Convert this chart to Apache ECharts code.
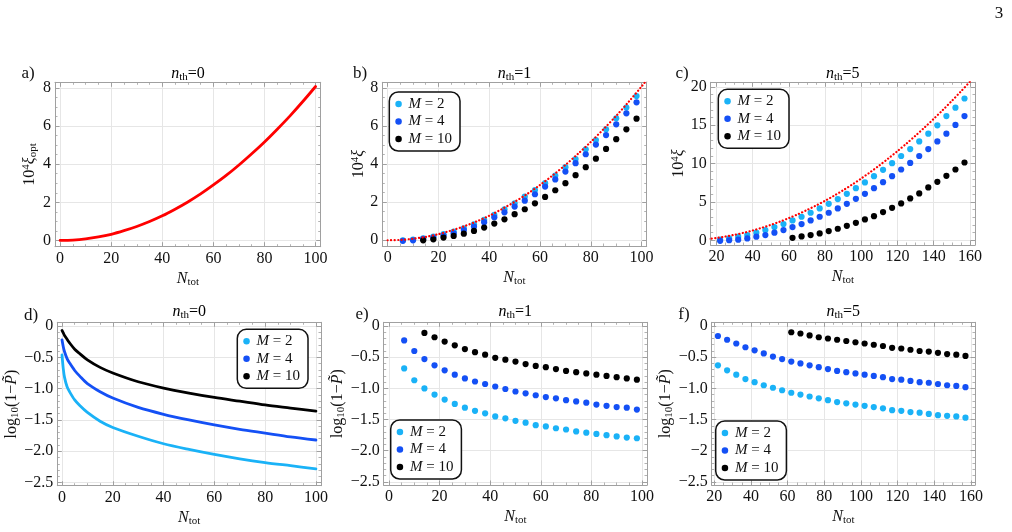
<!DOCTYPE html>
<html><head><meta charset="utf-8">
<script src="https://cdn.jsdelivr.net/npm/echarts@6/dist/echarts.min.js"></script>
<style>html,body{margin:0;padding:0;background:#fff}#c{width:1012px;height:532px}</style>
</head><body><div id="c"></div>
<script>
// ---------- data ----------
// optimal curve (n_th = 0), used in a) solid and b), c) dotted
const redX = [0,5,10,15,20,25,30,35,40,45,50,55,60,65,70,75,80,85,90,95,100,105,110,115,120,125,130,135,140,145,150,155,160];
const redY = [0,0.02,0.08,0.18,0.32,0.51,0.73,0.99,1.29,1.64,2.02,2.44,2.91,3.41,3.96,4.55,5.17,5.84,6.54,7.29,8.08,8.91,9.78,10.69,11.64,12.63,13.66,14.73,15.84,16.99,18.18,19.41,20.68];

// b) n_th = 1
const bX = [6,10,14,18,22,26,30,34,38,42,46,50,54,58,62,66,70,74,78,82,86,90,94,98];
const bM2 = [0.0,0.04,0.1,0.19,0.32,0.46,0.63,0.84,1.07,1.33,1.63,1.94,2.29,2.64,3.0,3.4,3.84,4.27,4.78,5.27,5.83,6.41,6.97,7.58];
const bM4 = [-0.03,0.0,0.07,0.14,0.25,0.37,0.54,0.72,0.95,1.21,1.47,1.77,2.08,2.42,2.82,3.2,3.61,4.05,4.52,5.03,5.53,6.09,6.67,7.25];
const bX10 = [14,18,22,26,30,34,38,42,46,50,54,58,62,66,70,74,78,82,86,90,94,98];
const bM10 = [0.0,0.05,0.14,0.23,0.35,0.49,0.67,0.88,1.1,1.37,1.63,1.94,2.28,2.63,3.0,3.42,3.84,4.29,4.8,5.31,5.83,6.39];

// c) n_th = 5
const cX = [22,27,32,37,42,47,52,57,62,67,72,77,82,87,92,97,102,107,112,117,122,127,132,137,142,147,152,157];
const cM2 = [0.09,0.26,0.48,0.69,1.0,1.34,1.74,2.13,2.6,3.08,3.6,4.16,4.77,5.38,6.07,6.81,7.55,8.37,9.2,10.06,11.0,11.9,12.9,13.9,15.0,16.2,17.3,18.49];
const cM4 = [-0.05,0.02,0.09,0.26,0.48,0.69,1.0,1.34,1.74,2.13,2.6,3.08,3.6,4.16,4.77,5.42,6.07,6.81,7.59,8.37,9.24,10.1,11.0,11.9,12.9,13.9,15.05,16.2];
const cX10 = [62,67,72,77,82,87,92,97,102,107,112,117,122,127,132,137,142,147,152,157];
const cM10 = [0.34,0.52,0.69,0.91,1.22,1.52,1.9,2.29,2.73,3.16,3.69,4.25,4.82,5.47,6.12,6.9,7.63,8.41,9.24,10.15];

// d) n_th = 0 curves
const dX = [0,0.5,1,2,3,5,7,10,15,20,30,40,50,60,70,80,90,100];
const dM2 = [-0.46,-0.68,-0.82,-0.97,-1.05,-1.18,-1.27,-1.38,-1.52,-1.62,-1.76,-1.88,-1.97,-2.05,-2.12,-2.18,-2.23,-2.28];
const dM4 = [-0.22,-0.33,-0.41,-0.52,-0.59,-0.71,-0.8,-0.92,-1.05,-1.15,-1.3,-1.41,-1.5,-1.58,-1.65,-1.71,-1.77,-1.82];
const dM10 = [-0.07,-0.11,-0.15,-0.21,-0.27,-0.37,-0.44,-0.54,-0.66,-0.75,-0.89,-0.99,-1.07,-1.14,-1.2,-1.26,-1.31,-1.36];

// e) n_th = 1
const eM2 = [-0.68,-0.87,-1.0,-1.1,-1.18,-1.25,-1.31,-1.36,-1.4,-1.45,-1.48,-1.52,-1.55,-1.59,-1.61,-1.64,-1.66,-1.69,-1.71,-1.73,-1.75,-1.77,-1.79,-1.8];
const eM4 = [-0.23,-0.4,-0.53,-0.63,-0.71,-0.78,-0.84,-0.89,-0.93,-0.97,-1.01,-1.05,-1.08,-1.11,-1.14,-1.16,-1.19,-1.21,-1.23,-1.26,-1.28,-1.3,-1.31,-1.34];
const eM10 = [-0.11,-0.18,-0.25,-0.31,-0.37,-0.42,-0.46,-0.51,-0.54,-0.57,-0.61,-0.64,-0.66,-0.69,-0.72,-0.74,-0.76,-0.78,-0.8,-0.82,-0.84,-0.86];

// f) n_th = 5
const fM2 = [-0.63,-0.71,-0.78,-0.85,-0.9,-0.95,-0.99,-1.03,-1.07,-1.1,-1.13,-1.16,-1.19,-1.22,-1.24,-1.26,-1.28,-1.3,-1.32,-1.35,-1.36,-1.38,-1.39,-1.41,-1.43,-1.44,-1.45,-1.47];
const fM4 = [-0.16,-0.22,-0.28,-0.34,-0.39,-0.44,-0.49,-0.53,-0.57,-0.6,-0.63,-0.66,-0.69,-0.72,-0.74,-0.76,-0.78,-0.8,-0.82,-0.85,-0.86,-0.88,-0.9,-0.91,-0.93,-0.95,-0.96,-0.98];
const fM10 = [-0.1,-0.12,-0.15,-0.18,-0.2,-0.22,-0.24,-0.26,-0.28,-0.3,-0.32,-0.35,-0.36,-0.38,-0.4,-0.41,-0.43,-0.45,-0.46,-0.48];

// labels
const seriesNames = ['M = 2','M = 4','M = 10'];
const panelTags = ['a)','b)','c)','d)','e)','f)'];
const nthValues = ['0','1','5','0','1','5'];
const logTicks = [0,-0.5,-1,-1.5,-2,-2.5];
const logLabelsDE = ['0','−0.5','−1.0','−1.5','−2.0','−2.5'];
const logLabelsF = ['0','−0.5','−1.0','−1.5','−2','−2.5'];

// ---------- style / layout ----------
const FONT = "'Liberation Serif','Times New Roman',serif";
const COL = ['#1ab2f7','#1450f5','#000000'];
const RED = '#ff0000';
const FRAME = '#a0a0a0', GRIDC = '#e6e6e6', TXT = '#111';

const grids = [
  {left:55,    top:82.3,  width:265.7, height:164.4},
  {left:382.3, top:82.3,  width:264.4, height:163.7},
  {left:710.7, top:82.3,  width:264.3, height:162.7},
  {left:57.3,  top:322.3, width:263.7, height:163.4},
  {left:383.7, top:322.3, width:263.3, height:162.7},
  {left:711.7, top:322.3, width:263.3, height:162.7}
];
const xr = [[-2,102],[-2.1,102],[16.8,162.8],[-1.85,102],[-2.1,102],[18.6,162.2]];
const yr = [[-0.33,8.3],[-0.3,8.3],[-0.6,20.6],[-2.55,0.06],[-2.55,0.06],[-2.55,0.06]];
const xSplit = [5,5,7,5,5,7], ySplit = [4,4,4,5,5,5];
const yMinor = [4,4,5,5,5,5];

const FS = 16, FSS = 11;
const rich = {
  r:{fontFamily:FONT,fontSize:FS,color:TXT},
  i:{fontFamily:FONT,fontSize:FS,fontStyle:'italic',color:TXT},
  sub:{fontFamily:FONT,fontSize:FSS,color:TXT,padding:[7,0,0,0]},
  sup:{fontFamily:FONT,fontSize:FSS,color:TXT,padding:[0,0,7,0]}
};
const xName = '{i|N}{sub|tot}';
const yNames = ['{r|10}{sup|4}{i|ξ}{sub|opt}','{r|10}{sup|4}{i|ξ}','{r|10}{sup|4}{i|ξ}',
  '{r|log}{sub|10}{r|(1−}{i|P̃}{r|)}','{r|log}{sub|10}{r|(1−}{i|P̃}{r|)}','{r|log}{sub|10}{r|(1−}{i|P̃}{r|)}'];
const yNameGap = [13,13,19,31,31,31];

function lbl(labels){
  return v => { const k = logTicks.findIndex(t => Math.abs(t - v) < 1e-9); return k >= 0 ? labels[k] : ''; };
}
const yFmt = [v=>String(v), v=>String(v), v=>String(v), lbl(logLabelsDE), lbl(logLabelsDE), lbl(logLabelsF)];

function axisBase(gi, min, max, split, minor, pos, primary){
  return {
    type:'value', gridIndex:gi, position:pos, min, max, splitNumber:split,
    axisLine:{show:true, onZero:false, lineStyle:{color:FRAME, width:1}},
    axisTick:{show:true, inside:true, length:4.5, lineStyle:{color:FRAME, width:1}},
    minorTick:{show:true, splitNumber:minor, length:2.5, lineStyle:{color:FRAME, width:0.8}},
    splitLine:{show:primary, lineStyle:{color:GRIDC, width:1}},
    minorSplitLine:{show:false},
    axisLabel:{show:primary, showMinLabel:false, showMaxLabel:false, color:TXT, fontFamily:FONT, fontSize:FS, margin:4},
    z: primary ? 1 : 2
  };
}

const xAxis = [], yAxis = [];
grids.forEach((g, i) => {
  const xp = axisBase(i, xr[i][0], xr[i][1], xSplit[i], 4, 'bottom', true);
  xp.axisLabel.formatter = v => String(v);
  xp.name = xName; xp.nameLocation = 'middle'; xp.nameGap = 23;
  xp.nameTextStyle = {rich};
  xAxis.push(xp);
  xAxis.push(axisBase(i, xr[i][0], xr[i][1], xSplit[i], 4, 'top', false));
  const yp = axisBase(i, yr[i][0], yr[i][1], ySplit[i], yMinor[i], 'left', true);
  yp.axisLabel.formatter = yFmt[i];
  yp.name = yNames[i]; yp.nameLocation = 'middle'; yp.nameGap = yNameGap[i]; yp.nameRotate = 90;
  yp.nameTextStyle = {rich};
  yAxis.push(yp);
  yAxis.push(axisBase(i, yr[i][0], yr[i][1], ySplit[i], yMinor[i], 'right', false));
});

const zip = (xs, ys) => xs.map((x, k) => [x, ys[k]]);
const series = [];
function scatter(p, name, xs, ys, ci){
  series.push({type:'scatter', name, xAxisIndex:2*p, yAxisIndex:2*p, data:zip(xs, ys),
    symbol:'circle', symbolSize:6.2, itemStyle:{color:COL[ci], opacity:1}, clip:true, z:3});
}
function curve(p, name, xs, ys, color, width, type){
  series.push({type:'line', name, xAxisIndex:2*p, yAxisIndex:2*p, data:zip(xs, ys),
    showSymbol:false, smooth:0.3, clip:true, z:type === 'solid' ? 3 : 4,
    lineStyle:{color, width, type, cap:'round', join:'round'}, itemStyle:{color}});
}
// a)
curve(0, 'opt', redX.filter(x => x <= 100), redY.filter((y, k) => redX[k] <= 100), RED, 2.8, 'solid');
// b)
scatter(1, seriesNames[0], bX, bM2, 0);
scatter(1, seriesNames[1], bX, bM4, 1);
scatter(1, seriesNames[2], bX10, bM10, 2);
curve(1, 'opt', redX, redY, RED, 2.2, [0.1, 3.4]);
// c)
scatter(2, seriesNames[0], cX, cM2, 0);
scatter(2, seriesNames[1], cX, cM4, 1);
scatter(2, seriesNames[2], cX10, cM10, 2);
curve(2, 'opt', redX, redY, RED, 2.2, [0.1, 3.4]);
// d)
curve(3, seriesNames[0], dX, dM2, COL[0], 2.8, 'solid');
curve(3, seriesNames[1], dX, dM4, COL[1], 2.8, 'solid');
curve(3, seriesNames[2], dX, dM10, COL[2], 2.8, 'solid');
// e)
scatter(4, seriesNames[0], bX, eM2, 0);
scatter(4, seriesNames[1], bX, eM4, 1);
scatter(4, seriesNames[2], bX10, eM10, 2);
// f)
scatter(5, seriesNames[0], cX, fM2, 0);
scatter(5, seriesNames[1], cX, fM4, 1);
scatter(5, seriesNames[2], cX10, fM10, 2);

const legendPos = [[389.3,92],[718.3,89.3],[237.3,329.3],[390.7,420],[715.7,421]];
const LFS = 15;
const legend = legendPos.map(p => ({
  data: seriesNames, left:p[0], top:p[1], orient:'vertical', selectedMode:false,
  icon:'circle', itemWidth:10, itemHeight:6.5, itemGap:1.5,
  padding:[4,8,4,6], borderColor:'#111', borderWidth:1.5, borderRadius:9,
  backgroundColor:'#fff',
  formatter: n => '{i|M}{r| = ' + n.split('= ')[1] + '}',
  textStyle:{fontFamily:FONT, fontSize:LFS, lineHeight:16, color:TXT,
    rich:{i:{fontFamily:FONT,fontSize:LFS,fontStyle:'italic',color:TXT}, r:{fontFamily:FONT,fontSize:LFS,color:TXT}}}
}));

const titleX = [188, 514.5, 842.8, 189.2, 515.3, 843.3];
const titleY = [73.3, 73.3, 73.3, 311.7, 311.7, 311.7];
const tagXY = [[28,73.5],[360,74],[682,74],[31,316],[362,314.5],[684,315]];
const graphic = [];
grids.forEach((g, i) => {
  graphic.push({type:'text', x:titleX[i], y:titleY[i], silent:true,
    style:{text:'{i|n}{sub|th}{r|=' + nthValues[i] + '}', align:'center', verticalAlign:'middle',
      rich:{i:{fontFamily:FONT,fontSize:16,fontStyle:'italic',color:TXT}, r:{fontFamily:FONT,fontSize:16,color:TXT},
            sub:{fontFamily:FONT,fontSize:11,color:TXT,padding:[7,0,0,0]}}}});
  graphic.push({type:'text', x:tagXY[i][0], y:tagXY[i][1], silent:true,
    style:{text:panelTags[i], align:'center', verticalAlign:'middle', fontFamily:FONT, fontSize:17, fill:TXT}});
});
graphic.push({type:'text', x:999, y:14, silent:true,
  style:{text:'3', align:'center', verticalAlign:'middle', fontFamily:FONT, fontSize:17, fill:TXT}});

const chart = echarts.init(document.getElementById('c'), null, {renderer:'canvas'});
chart.setOption({
  animation:false, backgroundColor:'#fff',
  grid: grids.map(g => Object.assign({containLabel:false, show:false}, g)),
  xAxis, yAxis, series, legend, graphic
});
</script></body></html>
